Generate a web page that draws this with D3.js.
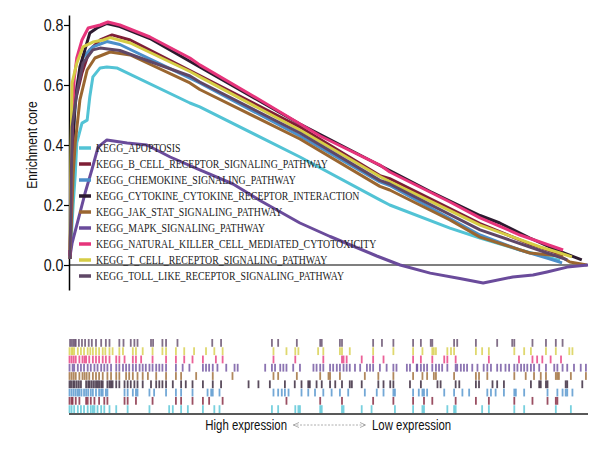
<!DOCTYPE html>
<html><head><meta charset="utf-8">
<script src="https://cdn.jsdelivr.net/npm/d3@7"></script>
<style>body{margin:0;background:#fff}</style>
</head><body>
<svg id="chart" width="615" height="450"></svg>
<script>
// ---------- data ----------
const seriesNames = [
  "KEGG_APOPTOSIS",
  "KEGG_B_CELL_RECEPTOR_SIGNALING_PATHWAY",
  "KEGG_CHEMOKINE_SIGNALING_PATHWAY",
  "KEGG_CYTOKINE_CYTOKINE_RECEPTOR_INTERACTION",
  "KEGG_JAK_STAT_SIGNALING_PATHWAY",
  "KEGG_MAPK_SIGNALING_PATHWAY",
  "KEGG_NATURAL_KILLER_CELL_MEDIATED_CYTOTOXICITY",
  "KEGG_T_CELL_RECEPTOR_SIGNALING_PATHWAY",
  "KEGG_TOLL_LIKE_RECEPTOR_SIGNALING_PATHWAY"
];
const seriesColors = ["#52c3d5","#7e1e36","#4b8fca","#2c1a2f","#9a6630","#6a4b9b","#e6347b","#d6cd45","#5f4766"];

// running enrichment score: [position in ranked list (%), ES]
const apoptosisES = [[0.2,0.02],[0.8,0.2],[1.2,0.3],[1.5,0.407],[2.5,0.473],[3.5,0.483],[4.0,0.56],[4.6,0.627],[6.0,0.657],[7.3,0.66],[9.2,0.657],[23.3,0.54],[25.2,0.527],[44.5,0.36],[59.9,0.217],[61.8,0.2],[73.4,0.123],[79.2,0.09],[86.9,0.05],[94.6,0.015]];
const bCellES = [[0.2,0.02],[0.6,0.4],[0.8,0.517],[2.5,0.64],[4.0,0.717],[6.0,0.75],[8.3,0.767],[11.8,0.75],[23.3,0.648],[44.5,0.46],[59.9,0.298],[61.8,0.288],[79.2,0.138],[88.8,0.07],[95.2,0.033]];
const chemokineES = [[0.2,0.03],[0.6,0.4],[1.5,0.593],[2.7,0.693],[4.6,0.727],[7.3,0.745],[9.8,0.735],[23.3,0.623],[25.2,0.607],[44.5,0.43],[59.9,0.277],[61.8,0.265],[79.2,0.10],[86.9,0.05],[92.7,0.02],[95.0,0.007]];
const cytokineES = [[0.2,0.03],[0.6,0.35],[1.2,0.55],[2.1,0.66],[4.0,0.773],[5.4,0.79],[7.3,0.805],[9.8,0.795],[15.6,0.755],[25.2,0.66],[44.5,0.47],[61.8,0.315],[69.6,0.245],[79.2,0.165],[83.0,0.14],[88.8,0.09],[94.6,0.045],[98.8,0.017]];
const jakStatES = [[0.2,0.02],[0.8,0.3],[1.2,0.407],[2.1,0.55],[3.5,0.65],[5.0,0.69],[7.9,0.71],[11.8,0.70],[23.3,0.607],[25.2,0.585],[44.5,0.42],[59.9,0.262],[61.8,0.25],[73.4,0.15],[79.2,0.093],[88.8,0.04],[94.6,0.03],[96.5,0.01],[99.8,0.0]];
const mapkES = [[0.2,0.03],[0.6,0.073],[2.1,0.173],[3.1,0.24],[4.4,0.317],[5.6,0.393],[7.3,0.417],[11.2,0.407],[15.0,0.40],[19.5,0.36],[25.2,0.317],[31.6,0.27],[36.8,0.215],[44.5,0.14],[50.3,0.095],[59.3,0.03],[63.8,0.0],[69.6,-0.027],[75.3,-0.045],[79.8,-0.06],[85.5,-0.04],[89.4,-0.033],[92.1,-0.023],[96.0,-0.007],[100,0.0]];
const nkES = [[0.2,0.03],[0.6,0.45],[1.0,0.62],[1.5,0.69],[2.5,0.75],[3.7,0.79],[6.0,0.80],[7.5,0.81],[9.8,0.80],[15.6,0.76],[23.3,0.69],[25.2,0.667],[36.8,0.55],[48.4,0.43],[59.9,0.333],[61.8,0.31],[73.4,0.21],[79.2,0.157],[86.9,0.10],[92.7,0.065],[95.2,0.05]];
const tCellES = [[0.2,0.05],[0.4,0.4],[0.6,0.607],[1.5,0.673],[2.7,0.727],[4.6,0.743],[6.6,0.75],[7.9,0.758],[11.8,0.74],[23.3,0.645],[25.2,0.627],[44.5,0.45],[59.9,0.295],[61.8,0.278],[79.2,0.133],[90.8,0.06],[94.6,0.04],[96.9,0.027]];
const tollES = [[0.2,0.02],[0.6,0.46],[1.5,0.573],[2.7,0.673],[4.6,0.717],[6.0,0.723],[9.8,0.715],[23.3,0.63],[25.2,0.61],[44.5,0.44],[59.9,0.282],[61.8,0.27],[79.2,0.117],[88.8,0.06],[96.0,0.017]];

// gene-set member positions in ranked list (%)
const apoptosisHits = [0.1,0.5,1.0,1.7,2.3,2.9,3.6,4.2,4.6,4.9,5.5,6.2,6.8,7.8,9.1,11.3,15.5,19.3,20.0,21.6,22.9,25.8,28.0,29.0,39.1,40.3,43.6,44.2,44.5,48.4,48.7,52.6,52.9,56.4,58.3,62.8,66.3,68.1,68.4,72.9,74.2,74.5,79.6,80.9,85.8,87.7,93.8,96.7];
const bCellHits = [0.1,0.5,0.7,1.3,2.0,3.3,3.6,4.2,4.9,5.8,6.8,7.4,10.7,11.3,12.9,16.1,20.6,21.6,23.8,25.8,27.0,29.6,41.9,48.4,52.6,58.6,62.5,66.3,68.4,70.0,74.5,78.4,80.9,85.8,89.3,92.2,93.8,94.1];
const chemokineHits = [0.1,0.5,0.9,1.3,1.7,2.0,2.4,2.9,3.3,3.7,4.2,4.6,5.2,5.8,6.2,6.5,7.1,7.4,10.7,11.3,12.3,12.9,13.2,15.5,16.4,18.7,20.6,21.6,23.8,26.7,27.4,27.7,29.0,39.4,40.3,41.0,41.6,42.3,44.8,46.1,47.4,49.0,50.6,52.2,53.8,57.0,59.3,60.6,62.5,62.8,66.3,67.4,68.1,68.4,69.0,72.3,74.2,75.8,77.1,80.6,81.3,82.2,83.8,85.8,86.1,87.7,92.2,94.1,95.1,95.7,96.0,97.0];
const cytokineHits = [0.1,0.4,0.8,1.1,1.5,1.9,2.3,3.3,3.7,4.0,4.4,4.8,5.2,5.5,5.8,6.2,6.5,7.4,7.8,8.1,8.4,9.1,9.7,10.7,11.3,11.9,12.6,13.2,14.2,15.8,16.8,17.4,18.0,18.7,20.0,21.6,22.5,23.8,25.8,27.7,29.3,34.6,36.5,38.7,41.6,43.5,44.8,46.1,46.4,47.7,48.7,50.3,51.3,52.6,54.1,54.5,56.4,59.6,60.6,61.9,62.5,65.7,67.8,71.0,71.6,74.5,75.2,78.4,79.0,81.6,82.5,83.8,89.0,90.6,90.9,91.9,92.2,95.7,96.0,98.9];
const jakStatHits = [0.1,0.5,0.9,1.3,2.0,2.6,3.0,3.4,3.9,4.6,5.2,5.8,6.5,7.4,8.1,9.1,9.7,11.0,11.6,12.3,13.2,14.2,15.2,16.8,18.7,20.6,21.6,24.5,27.7,31.5,39.4,40.3,43.9,48.4,50.0,50.3,52.2,57.0,59.6,62.5,66.3,68.1,69.0,70.3,70.7,74.2,78.4,79.0,80.6,85.8,88.0,89.6,90.9,91.9,93.8,94.1,94.4,96.7,99.6];
const mapkHits = [0.1,0.7,1.0,1.7,2.3,2.9,3.6,4.2,4.9,5.5,6.2,6.8,7.4,8.1,9.1,9.7,10.4,11.0,11.6,12.3,12.9,13.6,14.2,14.8,15.5,16.1,16.8,17.4,18.0,18.7,20.6,21.9,23.2,25.8,26.4,27.0,27.7,28.6,30.3,31.9,32.5,37.8,39.1,39.7,40.7,41.3,41.9,43.2,44.5,47.1,47.7,48.4,49.0,50.3,50.9,51.6,52.2,52.9,53.5,54.1,55.1,56.1,57.4,58.0,58.6,59.9,61.2,62.5,63.1,65.1,65.7,67.0,67.1,67.8,68.4,69.0,70.0,70.7,71.3,71.9,72.9,74.5,74.8,75.5,76.1,76.7,77.7,78.7,79.9,80.6,81.3,82.5,83.2,84.1,84.8,85.8,86.4,87.1,87.7,88.3,89.0,89.6,90.6,91.9,93.5,94.1,95.1,96.0,97.3,98.6,99.6];
const nkHits = [0.1,0.5,0.9,1.3,2.0,2.6,3.0,3.3,3.9,4.6,5.2,5.8,6.5,7.1,7.8,9.1,9.7,10.7,12.3,12.9,13.9,16.1,18.7,20.6,22.2,23.8,25.8,28.3,29.6,39.4,43.6,49.0,52.6,52.9,53.5,56.4,58.6,60.6,66.3,67.8,70.0,72.3,72.9,74.5,80.9,86.7,89.3,90.2,91.2,92.8,94.8];
const tCellHits = [0.1,0.5,0.7,1.0,1.7,2.3,2.9,3.6,4.1,4.6,5.2,5.8,6.5,7.0,7.8,8.4,9.7,10.4,12.3,12.9,14.2,16.1,18.0,18.7,20.6,22.2,24.1,26.4,28.0,29.6,39.4,41.9,43.6,44.2,48.0,49.0,52.2,52.6,54.1,58.6,62.5,66.3,68.1,70.0,70.3,70.7,72.9,73.6,74.2,78.4,79.6,80.9,85.8,87.7,89.0,91.9,93.8,96.4,97.0];
const tollHits = [0.2,0.5,0.8,1.1,1.3,1.9,2.5,3.1,3.8,4.4,5.2,6.2,7.1,7.8,9.7,10.5,11.9,12.6,13.2,15.8,16.2,18.0,18.7,20.9,27.6,29.3,39.1,40.3,43.9,48.4,48.7,52.2,52.6,58.6,60.3,62.5,66.3,67.8,69.7,70.0,74.2,74.8,78.4,82.5,85.4,85.8,89.3,91.9,93.8,95.1];

const esCurves = [apoptosisES,bCellES,chemokineES,cytokineES,jakStatES,mapkES,nkES,tCellES,tollES];
const hitSets = [apoptosisHits,bCellHits,chemokineHits,cytokineHits,jakStatHits,mapkHits,nkHits,tCellHits,tollHits];

const yTicks = [0.0,0.2,0.4,0.6,0.8];
const yLabel = "Enrichment core";
const xLabelLeft = "High expression";
const xLabelRight = "Low expression";

// ---------- drawing ----------
const svg = d3.select("#chart");
const x = d3.scaleLinear().domain([0,100]).range([69,588]);
const y = d3.scaleLinear().domain([-0.0833,0.8333]).range([290,15]);
const sansFont = "'Liberation Sans', Arial, sans-serif";
const serifFont = "'Liberation Serif', 'DejaVu Serif', 'Times New Roman', serif";

// zero line
svg.append("line").attr("x1",x(0)).attr("x2",x(100)).attr("y1",y(0)).attr("y2",y(0))
  .attr("stroke","#000").attr("stroke-width",1.2);

// y axis
const yAxis = svg.append("g").attr("transform","translate(69,0)")
  .call(d3.axisLeft(y).tickValues(yTicks).tickFormat(d3.format(".1f")).tickSize(5).tickSizeOuter(0));
yAxis.select(".domain").attr("stroke","#000").attr("stroke-width",1.5);
yAxis.selectAll(".tick line").attr("stroke","#000").attr("stroke-width",1.2);
yAxis.selectAll(".tick text").style("font-family",sansFont)
  .style("font-size","15.5px").attr("fill","#111").attr("x",-6)
  .attr("transform","scale(0.92,1.05)");

svg.append("text").attr("transform","translate(37,145) rotate(-90) scale(0.8,1)")
  .attr("text-anchor","middle").style("font-family",sansFont)
  .style("font-size","15px").attr("fill","#111").text(yLabel);

// curves
const line = d3.line().x(d=>x(d[0])).y(d=>y(d[1]));
esCurves.forEach((c,i)=>{
  svg.append("path").datum(c).attr("d",line).attr("fill","none")
    .attr("stroke",seriesColors[i]).attr("stroke-width",3).attr("stroke-linejoin","round");
});

// legend
const legend = svg.append("g");
seriesNames.forEach((n,i)=>{
  const ly = 148 + i*16;
  legend.append("line").attr("x1",79).attr("x2",91).attr("y1",ly).attr("y2",ly)
    .attr("stroke",seriesColors[i]).attr("stroke-width",3.5);
  legend.append("text").attr("transform",`translate(96,${ly+4}) scale(0.82,1)`)
    .style("font-family",serifFont).style("font-size","12px")
    .attr("fill","#222").text(n);
});

// rug (rows in reverse legend order)
const rowScale = d3.scaleBand().domain(d3.range(9).reverse()).range([339,413]).paddingInner(0.06);
hitSets.forEach((hits,i)=>{
  svg.append("g").selectAll("rect").data(hits).join("rect")
    .attr("x",d=>x(d)-0.9).attr("width",1.8)
    .attr("y",rowScale(i)).attr("height",rowScale.bandwidth())
    .attr("fill",seriesColors[i]).attr("opacity",0.78);
});
svg.append("line").attr("x1",x(0)).attr("x2",x(100)).attr("y1",414).attr("y2",414)
  .attr("stroke","#222").attr("stroke-width",1.5);

// x label
svg.append("text").attr("transform","translate(287,430) scale(0.76,1)").attr("text-anchor","end")
  .style("font-family",sansFont).style("font-size","15px").attr("fill","#111").text(xLabelLeft);
svg.append("text").attr("transform","translate(372,430) scale(0.76,1)").attr("text-anchor","start")
  .style("font-family",sansFont).style("font-size","15px").attr("fill","#111").text(xLabelRight);
svg.append("line").attr("x1",293).attr("x2",366).attr("y1",425).attr("y2",425)
  .attr("stroke","#999").attr("stroke-width",0.8).attr("stroke-dasharray","2,1.5");
svg.append("path").attr("d","M299,422.5 L293.5,425 L299,427.5").attr("fill","none").attr("stroke","#999").attr("stroke-width",0.8);
svg.append("path").attr("d","M360,422.5 L365.5,425 L360,427.5").attr("fill","none").attr("stroke","#999").attr("stroke-width",0.8);
</script>
</body></html>
